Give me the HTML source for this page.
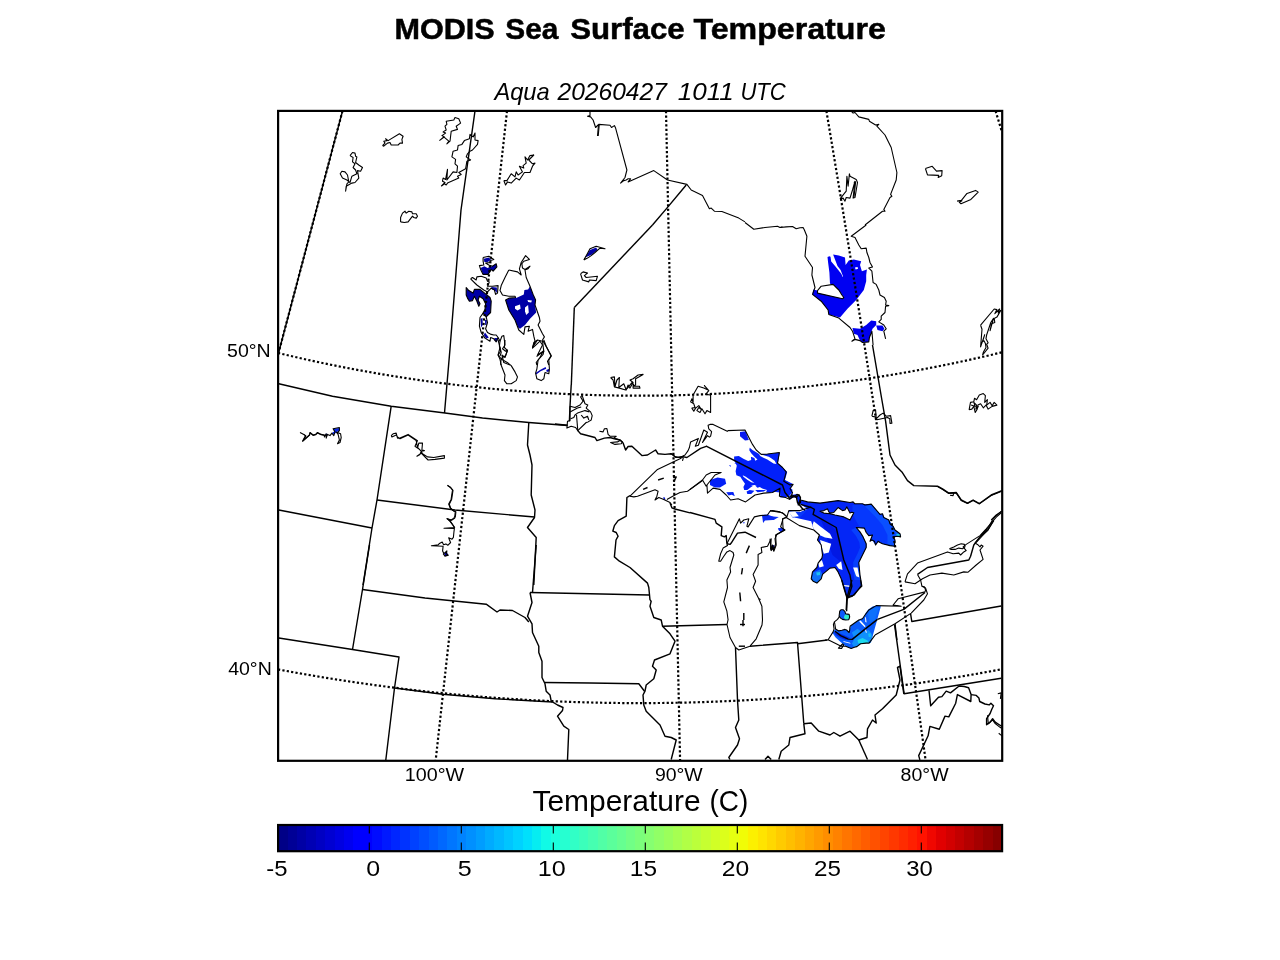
<!DOCTYPE html>
<html><head><meta charset="utf-8"><title>MODIS Sea Surface Temperature</title>
<style>
html,body{margin:0;padding:0;background:#fff;}
body{width:1280px;height:960px;overflow:hidden;font-family:"Liberation Sans",sans-serif;}
svg{display:block;will-change:transform;transform:translateZ(0)}
text{font-family:"Liberation Sans",sans-serif;fill:#000}
.b{fill:none;stroke:#000;stroke-width:1.42;stroke-linejoin:round;stroke-linecap:butt}
.c{fill:none;stroke:#000;stroke-width:1.1;stroke-linejoin:round;stroke-linecap:butt}
.d{fill:none;stroke:#000;stroke-width:2.2;stroke-dasharray:2.22 2.22}
</style></head><body>
<svg width="1280" height="960" viewBox="0 0 1280 960">
<rect width="1280" height="960" fill="#fff"/>
<defs><clipPath id="mc"><rect x="278" y="111" width="724" height="650"/></clipPath></defs>

<text x="394.49" y="38.80" font-size="29.7" font-weight="bold" font-style="normal" stroke="#000" stroke-width="0.5" textLength="100.26" lengthAdjust="spacingAndGlyphs">MODIS</text>
<text x="505.30" y="38.80" font-size="29.7" font-weight="bold" font-style="normal" stroke="#000" stroke-width="0.5" textLength="53.02" lengthAdjust="spacingAndGlyphs">Sea</text>
<text x="570.19" y="38.80" font-size="29.7" font-weight="bold" font-style="normal" stroke="#000" stroke-width="0.5" textLength="114.54" lengthAdjust="spacingAndGlyphs">Surface</text>
<text x="693.49" y="38.80" font-size="29.7" font-weight="bold" font-style="normal" stroke="#000" stroke-width="0.5" textLength="192.39" lengthAdjust="spacingAndGlyphs">Temperature</text>
<text x="494.41" y="100.00" font-size="23.8" font-weight="normal" font-style="italic" textLength="55.31" lengthAdjust="spacingAndGlyphs">Aqua</text>
<text x="557.47" y="100.00" font-size="23.8" font-weight="normal" font-style="italic" textLength="109.43" lengthAdjust="spacingAndGlyphs">20260427</text>
<text x="677.76" y="100.00" font-size="23.8" font-weight="normal" font-style="italic" textLength="56.09" lengthAdjust="spacingAndGlyphs">1011</text>
<text x="740.41" y="100.00" font-size="23.8" font-weight="normal" font-style="italic" textLength="45.43" lengthAdjust="spacingAndGlyphs">UTC</text>
<text x="227.03" y="356.90" font-size="18" font-weight="normal" font-style="normal" textLength="43.65" lengthAdjust="spacingAndGlyphs">50°N</text>
<text x="228.17" y="675.00" font-size="18" font-weight="normal" font-style="normal" textLength="43.59" lengthAdjust="spacingAndGlyphs">40°N</text>
<text x="404.77" y="780.75" font-size="18" font-weight="normal" font-style="normal" textLength="59.38" lengthAdjust="spacingAndGlyphs">100°W</text>
<text x="654.95" y="780.75" font-size="18" font-weight="normal" font-style="normal" textLength="47.80" lengthAdjust="spacingAndGlyphs">90°W</text>
<text x="900.64" y="780.75" font-size="18" font-weight="normal" font-style="normal" textLength="47.98" lengthAdjust="spacingAndGlyphs">80°W</text>
<text x="532.42" y="810.80" font-size="29.7" font-weight="normal" font-style="normal" textLength="168.14" lengthAdjust="spacingAndGlyphs">Temperature</text>
<text x="709.41" y="810.80" font-size="29.7" font-weight="normal" font-style="normal" textLength="38.78" lengthAdjust="spacingAndGlyphs">(C)</text>
<text x="266.31" y="875.60" font-size="21.2" font-weight="normal" font-style="normal" textLength="21.24" lengthAdjust="spacingAndGlyphs">-5</text>
<text x="366.24" y="875.60" font-size="21.2" font-weight="normal" font-style="normal" textLength="13.91" lengthAdjust="spacingAndGlyphs">0</text>
<text x="457.81" y="875.60" font-size="21.2" font-weight="normal" font-style="normal" textLength="13.97" lengthAdjust="spacingAndGlyphs">5</text>
<text x="537.86" y="875.60" font-size="21.2" font-weight="normal" font-style="normal" textLength="27.95" lengthAdjust="spacingAndGlyphs">10</text>
<text x="629.86" y="875.60" font-size="21.2" font-weight="normal" font-style="normal" textLength="27.19" lengthAdjust="spacingAndGlyphs">15</text>
<text x="721.77" y="875.60" font-size="21.2" font-weight="normal" font-style="normal" textLength="27.50" lengthAdjust="spacingAndGlyphs">20</text>
<text x="813.94" y="875.60" font-size="21.2" font-weight="normal" font-style="normal" textLength="26.91" lengthAdjust="spacingAndGlyphs">25</text>
<text x="906.21" y="875.60" font-size="21.2" font-weight="normal" font-style="normal" textLength="26.54" lengthAdjust="spacingAndGlyphs">30</text>

<g clip-path="url(#mc)">
<path d="M740.0 431.9 L745.6 431.2 L748.8 440.0 L745.0 440.6 L740.0 436.2 Z" fill="#0818f0"/>
<path d="M734.1 456.4 L738.8 456.0 L743.4 458.8 L748.1 461.1 L751.2 459.9 L750.9 456.8 L754.4 458.0 L755.2 460.7 L757.5 459.5 L754.4 456.8 L751.2 453.3 L749.3 450.2 L749.7 447.8 L752.8 450.2 L756.7 452.5 L759.1 454.1 L760.2 456.0 L763.4 457.8 L767.3 459.4 L770.0 461.2 L773.5 463.4 L776.4 464.1 L774.7 460.7 L771.6 458.4 L768.8 456.8 L764.5 455.6 L761.0 454.5 L761.4 454.1 L766.9 454.1 L779.8 452.5 L778.2 460.7 L777.8 463.4 L782.5 467.3 L787.2 472.0 L784.8 480.6 L792.7 484.5 L789.5 486.9 L792.7 490.0 L790.3 493.9 L788.8 496.2 L784.8 497.4 L780.2 497.4 L780.5 490.0 L778.6 490.0 L774.7 491.6 L770.0 493.1 L766.1 492.3 L766.9 490.0 L762.2 488.4 L759.8 486.9 L757.5 487.7 L754.4 485.3 L751.2 486.9 L747.3 490.0 L744.2 490.0 L743.4 486.9 L745.0 483.8 L742.7 480.6 L740.3 476.7 L736.4 475.2 L735.6 471.2 L736.8 465.8 L734.1 460.3 Z" fill="#0220fa"/>
<path d="M742.7 475.2 L745.8 476.7 L751.2 480.6 L754.4 483.0 L751.2 482.2 L747.3 479.8 L743.4 476.7 Z" fill="#ffffff"/>
<path d="M751.2 485.7 L754.4 484.9 L756.7 486.1 L754.4 487.3 Z" fill="#ffffff"/>
<path d="M746.6 491.6 L749.7 490.0 L754.4 490.8 L751.2 493.9 L747.3 493.9 Z" fill="#0220fa"/>
<path d="M755.2 490.0 L760.6 490.0 L766.1 490.0 L763.8 491.6 L757.5 492.3 Z" fill="#0220fa"/>
<path d="M788.8 496.2 L792.7 494.7 L797.3 493.9 L799.7 496.2 L800.5 500.9 L798.1 504.8 L797.0 502.5 L798.1 499.4 L795.0 497.0 L790.3 498.6 Z" fill="#0220fa"/>
<path d="M729.0 465.0 L730.9 465.4 L730.5 467.0 Z" fill="#0220fa"/>
<path d="M734.1 463.0 L736.0 463.0 L735.6 463.8 Z" fill="#0220fa"/>
<path d="M710.0 480.0 L717.5 477.5 L725.0 478.8 L726.2 483.8 L720.0 487.5 L715.0 487.5 L710.0 485.0 Z" fill="#0420f6"/>
<path d="M726.2 492.3 L733.3 492.0 L734.8 496.2 L731.7 494.7 L728.6 495.5 Z" fill="#0420f6"/>
<path d="M796.9 496.2 L800.6 500.0 L807.5 501.9 L820.0 503.1 L838.1 500.6 L850.0 502.5 L853.1 501.9 L855.0 503.8 L862.5 503.8 L865.0 505.0 L871.2 504.1 L880.0 514.4 L882.5 513.8 L883.8 517.5 L888.8 520.0 L890.0 523.8 L893.1 526.2 L895.0 530.0 L900.0 533.8 L900.6 536.9 L897.5 536.2 L893.1 536.9 L895.0 540.0 L894.4 546.2 L890.0 545.6 L882.5 543.8 L880.0 542.5 L878.1 541.2 L875.6 545.0 L874.4 541.2 L871.9 540.0 L870.0 541.2 L872.5 535.0 L868.8 535.6 L866.2 532.5 L864.4 528.1 L856.2 527.5 L860.0 531.9 L863.1 536.9 L866.2 543.8 L866.2 547.5 L862.5 555.0 L858.8 562.5 L860.0 575.0 L861.9 586.2 L856.2 591.9 L852.5 596.2 L847.5 598.1 L846.9 598.1 L844.4 590.0 L841.2 578.8 L838.1 571.9 L835.0 567.5 L830.0 568.1 L822.5 574.4 L821.2 578.8 L816.9 583.1 L813.1 581.2 L811.2 578.8 L812.5 571.9 L816.9 567.5 L818.1 563.1 L821.9 558.1 L822.5 555.0 L821.2 545.0 L817.5 540.0 L819.4 535.0 L813.8 530.0 L811.2 521.2 L800.0 518.8 L795.0 517.5 L799.4 512.5 L807.5 508.8 L800.6 504.4 L798.1 504.4 Z" fill="#0426f6"/>
<path d="M857.5 505.0 L871.2 504.4 L880.0 514.4 L883.8 517.5 L888.8 520.0 L893.1 526.2 L895.0 530.0 L900.0 533.8 L900.6 536.9 L893.1 536.9 L894.4 546.2 L882.5 543.8 L878.1 541.2 L875.6 545.0 L871.9 540.0 L872.5 535.0 L877.5 530.0 L875.0 521.2 L867.5 515.0 L860.0 512.5 Z" fill="#0844fc"/>
<path d="M856.2 527.5 L860.0 531.9 L863.1 536.9 L866.2 543.8 L866.2 547.5 L862.5 555.0 L858.8 562.5 L860.0 575.0 L861.9 586.2 L856.2 591.9 L855.0 586.2 L853.8 575.0 L853.1 562.5 L857.5 553.8 L860.0 547.5 L859.4 542.5 L856.2 536.2 L851.2 530.0 Z" fill="#0840fc"/>
<path d="M852.5 505.0 L857.5 504.4 L871.2 504.1 L880.0 514.4 L882.5 513.8 L883.8 517.5 L888.8 520.0 L890.0 523.8 L893.1 526.2 L895.0 530.0 L900.0 533.8 L900.6 536.9 L897.5 536.2 L893.1 536.9 L895.0 540.0 L894.4 546.2 L890.0 545.6 L882.5 543.8 L880.0 542.5 L878.1 541.2 L875.6 545.0 L874.4 541.2 L871.9 540.0 L870.0 541.2 L872.5 535.0 L868.8 535.6 L866.2 532.5 L864.4 528.1 L860.0 527.5 L856.2 521.2 L852.5 513.8 Z" fill="#0638fc"/>
<path d="M865.0 506.2 L871.2 504.4 L880.0 514.4 L883.8 517.5 L888.8 520.0 L893.1 526.2 L895.0 530.0 L900.0 533.8 L900.6 536.9 L893.1 536.9 L894.4 546.2 L887.5 545.0 L887.5 535.0 L882.5 525.0 L875.0 516.2 Z" fill="#0a50ff"/>
<path d="M896.2 533.8 L900.0 533.8 L900.6 536.9 L896.9 536.5 Z" fill="#20c8e0"/>
<path d="M820.0 517.5 L828.8 522.5 L837.5 532.5 L842.5 557.5 L847.5 567.5 L840.0 561.2 L832.5 555.0 L828.8 545.0 L825.0 530.0 Z" fill="#0218e4"/>
<path d="M813.1 572.5 L820.0 569.4 L822.5 574.4 L821.2 578.8 L816.9 583.1 L813.1 581.2 L811.9 577.5 Z" fill="#1070f8"/>
<path d="M816.2 572.5 L820.0 571.9 L820.0 575.0 L816.9 575.6 Z" fill="#20c0f0"/>
<path d="M813.8 521.2 L820.0 526.2 L830.0 533.8 L832.5 538.8 L825.0 537.5 L819.4 535.0 L813.8 530.0 L812.5 525.0 Z" fill="#ffffff"/>
<path d="M820.0 540.0 L831.2 543.8 L828.8 552.5 L823.8 553.8 L821.9 547.5 Z" fill="#ffffff"/>
<path d="M818.1 563.1 L821.9 560.0 L823.8 566.2 L819.4 567.5 Z" fill="#ffffff"/>
<path d="M836.2 565.0 L841.2 561.2 L842.5 570.0 L838.8 568.8 Z" fill="#ffffff"/>
<path d="M853.1 567.5 L857.5 567.5 L859.4 577.5 L856.2 576.2 Z" fill="#ffffff"/>
<path d="M843.8 585.0 L850.0 586.2 L848.8 588.8 Z" fill="#ffffff"/>
<path d="M857.5 528.1 L863.8 528.1 L865.6 535.0 L863.1 536.2 Z" fill="#ffffff"/>
<path d="M820.0 511.2 L823.8 510.6 L827.5 508.8 L828.8 511.9 L830.0 513.1 L833.8 512.5 L838.1 507.5 L842.5 510.6 L845.0 510.0 L846.9 506.9 L850.0 513.1 L851.9 512.2 L853.8 512.8 L850.0 520.0 L847.5 518.8 L843.8 516.9 L835.0 515.0 L830.0 513.8 L823.8 513.1 Z" fill="#ffffff"/>
<path d="M770.0 516.2 L778.8 516.9 L773.8 520.0 L770.0 520.0 Z" fill="#0830f8"/>
<path d="M778.1 528.8 L782.5 528.1 L784.4 530.6 L780.6 531.9 Z" fill="#0830f8"/>
<path d="M788.8 511.2 L801.2 511.9 L807.5 509.4 L800.0 517.5 L792.5 517.5 Z" fill="#0838fa"/>
<path d="M788.8 511.9 L795.0 511.2 L798.8 516.2 L792.5 516.9 Z" fill="#ffffff"/>
<path d="M770.0 480.0 L785.0 480.0 L792.5 483.8 L790.6 487.5 L792.5 492.5 L788.8 496.2 L780.6 496.9 L780.0 492.5 L770.0 491.2 Z" fill="#0220fa"/>
<path d="M761.9 515.0 L767.5 514.4 L775.0 517.5 L772.5 520.0 L765.0 520.6 L763.1 523.1 L762.5 518.8 Z" fill="#0828f4"/>
<path d="M778.1 528.1 L782.5 528.1 L784.4 530.0 L781.9 531.9 L778.8 530.6 Z" fill="#0828f4"/>
<path d="M771.2 545.6 L774.4 545.0 L773.8 550.0 L771.9 549.4 Z" fill="#000890"/>
<path d="M743.1 521.9 L745.0 522.5 L743.8 523.8 Z" fill="#0828f4"/>
<path d="M663.1 497.2 L665.0 497.5 L665.2 499.8 L663.8 499.4 Z" fill="#0818d0"/>
<path d="M876.9 605.6 L880.9 606.2 L870.9 642.5 L869.1 643.1 L866.2 643.1 L860.6 643.8 L856.9 646.6 L854.4 647.2 L851.2 648.4 L845.6 646.2 L840.6 641.9 L835.6 637.5 L832.5 633.1 L833.4 631.2 L835.6 629.1 L838.8 630.9 L841.9 630.3 L845.0 629.4 L846.6 630.0 L849.1 632.5 L849.7 630.0 L850.6 625.9 L856.2 621.9 L861.2 619.1 L864.1 616.9 L865.6 613.1 L868.1 609.7 L872.5 606.6 Z" fill="#0a5cfc"/>
<path d="M851.9 632.5 L857.5 628.8 L862.5 632.5 L868.8 630.0 L872.5 635.0 L870.9 642.5 L869.1 643.1 L866.2 643.1 L860.6 643.8 L856.9 646.6 L854.4 647.2 L851.9 643.8 L854.4 638.8 Z" fill="#1090fc"/>
<path d="M857.5 640.0 L862.5 638.1 L867.5 640.6 L868.8 643.1 L866.2 643.1 L860.6 643.8 L858.1 643.1 Z" fill="#1cd8ec"/>
<path d="M868.1 633.8 L870.6 633.1 L870.9 636.9 L868.8 636.9 Z" fill="#18c0f4"/>
<path d="M833.8 631.9 L837.5 632.5 L843.8 635.0 L850.0 638.1 L845.6 640.0 L840.6 638.1 L835.6 635.0 Z" fill="#0428e4"/>
<path d="M868.8 610.0 L875.0 607.5 L878.8 607.5 L875.0 620.0 L870.0 622.5 L868.1 615.6 Z" fill="#0c70fc"/>
<path d="M859.1 621.2 L860.6 620.6 L865.0 625.6 L865.6 627.5 L863.8 626.2 L860.6 623.1 Z" fill="#ffffff"/>
<path d="M865.0 616.9 L865.9 617.5 L866.6 622.5 L865.3 621.9 Z" fill="#ffffff"/>
<path d="M865.0 628.8 L865.9 629.1 L866.9 633.1 L865.6 632.2 Z" fill="#ffffff"/>
<path d="M843.1 640.9 L850.0 642.8 L850.6 643.8 L843.8 641.9 Z" fill="#ffffff"/>
<path d="M839.7 611.2 L841.2 609.7 L843.1 609.7 L845.0 611.6 L845.6 613.8 L849.1 614.4 L849.7 616.9 L848.8 619.7 L845.6 620.0 L842.5 619.4 L840.6 618.1 L839.1 616.2 Z" fill="#0c58fc"/>
<path d="M845.0 614.4 L849.1 614.7 L849.5 616.9 L848.8 619.5 L845.6 619.8 L843.8 617.5 Z" fill="#30ecc8"/>
<path d="M840.0 618.1 L841.6 618.4 L841.9 619.7 L840.3 619.4 Z" fill="#ffffff"/>
<path d="M841.2 580.0 L847.5 597.5 L854.4 595.0 L860.6 586.2 L860.0 580.0 Z" fill="#0830f0"/>
<path d="M843.8 585.0 L849.4 585.6 L849.8 586.9 L844.0 586.2 Z" fill="#ffffff"/>
<path d="M827.5 256.9 L829.4 256.2 L830.5 256.8 L831.2 261.4 L835.9 266.9 L841.4 273.9 L842.6 277.0 L843.0 276.2 L840.6 270.0 L837.5 266.1 L833.1 254.4 L838.8 255.6 L845.0 257.5 L845.6 265.0 L848.8 260.6 L853.8 259.4 L861.2 261.2 L860.0 265.0 L861.9 271.2 L866.9 269.4 L866.2 275.0 L866.2 281.2 L863.8 290.0 L856.2 300.0 L847.5 308.8 L840.0 317.5 L828.8 314.4 L828.1 310.0 L821.2 301.2 L812.5 294.4 L813.1 289.4 L817.5 290.6 L817.5 293.1 L842.5 298.8 L843.8 297.5 L838.8 290.0 L833.1 284.4 L830.0 283.8 L829.4 272.5 L828.1 262.5 Z" fill="#0000f2"/>
<path d="M852.5 328.1 L860.0 328.8 L866.2 325.0 L871.2 320.6 L876.2 321.2 L876.2 325.0 L872.5 328.8 L869.4 337.5 L868.8 341.9 L862.5 342.5 L860.0 340.6 L857.5 335.0 L853.8 333.8 Z" fill="#0000ee"/>
<path d="M876.2 325.6 L882.5 325.6 L884.4 328.8 L882.5 331.2 L877.5 330.0 Z" fill="#0000ee"/>
<path d="M855.0 267.5 L857.5 266.9 L858.1 268.8 L855.6 269.4 Z" fill="#ffffff"/>
<path d="M505.6 300.0 L510.0 298.1 L516.2 298.1 L523.8 294.4 L524.4 290.0 L528.1 289.4 L530.0 286.2 L533.1 294.4 L535.6 300.0 L535.0 305.0 L536.2 312.5 L530.0 318.8 L525.0 325.0 L520.0 328.8 L518.1 327.5 L515.0 320.0 L508.8 310.0 Z" fill="#0000a6"/>
<path d="M515.0 306.2 L520.0 304.4 L520.6 308.8 L517.5 310.6 L515.0 308.8 Z" fill="#ffffff"/>
<path d="M525.0 307.5 L528.1 305.0 L528.8 312.5 L526.2 315.0 L525.0 311.2 Z" fill="#ffffff"/>
<path d="M527.5 300.0 L531.9 300.6 L531.2 302.5 L528.1 301.9 Z" fill="#ffffff"/>
<path d="M480.6 268.1 L484.4 266.2 L487.5 268.1 L491.9 266.2 L496.2 263.8 L496.9 266.9 L493.1 271.2 L491.2 269.4 L488.1 274.4 L483.1 274.4 Z" fill="#0000a6"/>
<path d="M483.8 258.8 L488.8 257.5 L491.2 260.0 L487.5 261.9 L484.4 261.9 Z" fill="#0000a6"/>
<path d="M491.2 286.9 L496.9 287.5 L496.9 293.1 L494.4 290.0 L491.9 289.4 Z" fill="#0000a6"/>
<path d="M466.2 287.5 L468.8 290.6 L473.1 293.1 L474.4 289.4 L480.0 289.4 L486.2 294.4 L490.0 297.5 L491.2 301.2 L490.6 312.5 L486.2 316.9 L483.1 313.1 L485.0 309.4 L485.6 303.8 L483.1 298.8 L479.4 296.2 L478.1 300.0 L480.0 303.8 L478.8 306.2 L476.9 301.2 L474.4 296.2 L472.5 300.6 L469.4 301.2 L467.5 298.1 L466.2 295.0 Z" fill="#0000a6"/>
<path d="M485.0 332.5 L488.8 337.5 L486.2 338.8 L483.8 335.0 Z" fill="#0000a6"/>
<path d="M494.4 338.1 L498.1 338.1 L496.9 341.9 L494.4 340.6 Z" fill="#0000a6"/>
<path d="M480.6 318.8 L482.5 318.1 L482.8 325.0 L481.0 327.5 Z" fill="#0000a6"/>
<path d="M485.0 320.0 L486.9 320.0 L486.5 325.0 L485.2 325.0 Z" fill="#0000a6"/>
<path d="M585.0 257.5 L590.0 250.0 L596.2 247.5 L597.5 250.0 L591.2 255.0 Z" fill="#0000a6"/>
<path d="M535.6 373.1 L540.0 370.0 L545.6 366.9 L546.2 368.8 L540.6 371.2 L536.2 374.4 Z" fill="#0000b4"/>
<path d="M546.2 370.0 L549.4 368.8 L549.4 371.2 L546.9 371.9 Z" fill="#0000b4"/>
<path d="M333.1 428.8 L339.4 428.1 L339.4 430.6 L336.9 431.9 L333.8 434.4 L331.9 433.1 L334.4 431.2 Z" fill="#0828e8"/>
<path d="M325.6 433.8 L327.5 433.8 L327.5 435.6 L325.6 435.6 Z" fill="#0818c0"/>
<path d="M444.5 552.8 L446.9 551.9 L448.3 555.6 L444.5 556.3 Z" fill="#0000a0"/>
<path class="c" d="M987.5 715.2 L988.3 723.8 L992.6 719.9 L994.9 723.3 L1000.4 727.6 L1002.4 728.1"/>
<path class="c" d="M997.8 693.7 L1001.2 692.9 L1000.4 698.9"/>
<path class="c" d="M998.7 733.3 L1002.4 736.2"/>
<path class="c" d="M570.0 406.2 L575.0 407.5 L580.0 405.0 L583.1 401.2 L580.6 396.9 L582.2 395.6 L585.0 403.8 L587.8 405.0 L586.2 408.1 L590.6 411.9 L592.2 415.6 L591.2 420.0 L588.1 421.9 L586.2 422.5 L577.8 430.6 L575.6 427.5 L571.2 426.2 L566.9 428.1 L567.5 421.2 L570.0 420.6 L570.0 406.2"/>
<path class="c" d="M570.0 411.9 L577.5 408.1 L581.2 406.9"/>
<path class="c" d="M570.6 418.8 L573.8 417.5 L575.0 415.0 L577.5 413.1 L585.0 410.6 L589.4 411.9"/>
<path class="c" d="M581.2 415.0 L583.8 418.1 L587.5 416.2 L588.8 420.0"/>
<path class="c" d="M577.8 430.6 L576.5 415.0"/>
<path class="c" d="M599.4 431.2 L603.1 431.9 L604.4 428.8 L606.9 428.5 L608.1 434.4 L610.0 436.2 L616.2 436.2 L613.8 438.1 L620.0 440.0 L622.5 441.9 L621.2 443.8 L615.0 444.4 L610.6 442.5 L617.5 441.9 L620.0 440.6"/>
<path class="c" d="M670.0 453.8 L672.5 454.1 L675.0 456.6 L678.1 457.5 L682.5 456.2 L685.0 455.0 L688.1 450.6 L689.4 447.5 L690.6 441.9 L698.4 438.4 L695.3 446.2 L698.4 445.3 L703.8 430.0 L707.5 432.2 L702.5 442.5 L707.5 435.6 L709.4 437.2 L710.6 436.2 L711.6 431.6 L708.8 428.8 L708.1 425.3 L710.0 424.4 L713.1 424.4 L727.8 431.4"/>
<path class="c" d="M683.4 457.5 L682.5 460.9"/>
<path class="c" d="M630.0 496.2 L657.5 469.4 L680.0 458.8 L683.8 456.2"/>
<path class="c" d="M630.0 496.2 L633.8 496.9 L637.5 496.2 L655.0 489.8 L658.1 491.2 L656.9 496.2 L655.0 500.0 L658.8 497.5 L663.8 499.4 L670.0 502.5 L671.9 505.0"/>
<path class="c" d="M666.9 499.4 L675.0 495.0 L680.0 492.5 L687.5 491.2 L702.5 480.6"/>
<path class="c" d="M727.5 430.6 L745.0 430.0 L752.5 444.4 L756.2 450.0 L761.2 454.4 L767.5 454.0 L779.4 452.5 L778.1 460.0 L777.5 463.1 L782.5 467.5 L786.2 471.9 L783.8 481.2 L790.0 485.0 L793.1 484.4 L790.0 488.8 L792.5 492.5 L791.2 496.2 L796.2 497.5 L798.8 495.0 L800.6 497.5 L800.0 501.2 L798.1 505.6"/>
<path class="c" d="M690.0 489.4 L702.5 480.0 L706.2 475.0 L711.2 472.5 L721.2 472.5 L715.0 475.0 L706.9 485.0 L707.5 493.1 L713.1 488.1 L720.0 489.4 L726.2 495.0 L730.6 500.0 L738.1 498.8 L745.6 501.9 L755.0 495.0 L763.8 493.1 L772.5 492.5 L780.0 488.1 L779.4 496.2 L785.6 497.5 L790.0 499.4"/>
<path class="c" d="M702.5 480.0 L706.2 486.2 L706.9 485.0"/>
<path class="c" d="M790.0 496.9 L791.9 495.0 L795.0 496.2 L796.9 494.4 L799.4 495.0 L800.6 498.8 L798.1 504.4 L800.6 502.5 L800.6 500.0 L807.5 501.9 L820.0 503.1 L838.1 500.6 L850.0 502.5 L853.1 501.9 L855.0 503.8 L862.5 503.8 L865.0 505.0 L871.2 504.1 L880.0 514.4 L882.5 513.8 L883.8 517.5 L888.8 520.0 L890.0 523.8 L893.1 526.2 L895.0 530.0 L900.0 533.8 L900.6 536.9 L897.5 536.2 L893.1 536.9 L895.0 540.0 L894.4 546.2 L890.0 545.6 L882.5 543.8 L880.0 542.5 L878.1 541.2 L875.6 545.0 L874.4 541.2 L871.9 540.0 L870.0 541.2 L872.5 535.0 L868.8 535.6 L866.2 532.5 L864.4 528.1 L856.2 527.5 L860.0 531.9 L863.1 536.9 L866.2 543.8 L866.2 547.5 L862.5 555.0 L858.8 562.5 L860.0 575.0 L861.9 586.2 L856.2 591.9 L852.5 596.2 L847.5 598.1 L846.9 600.0"/>
<path class="c" d="M846.9 598.1 L844.4 590.0 L841.2 578.8 L838.1 571.9 L835.0 567.5 L830.0 568.1 L822.5 574.4 L821.2 578.8 L816.9 583.1 L813.1 581.2 L811.2 578.8 L812.5 571.9 L816.9 567.5 L818.1 563.1 L821.9 558.1 L822.5 555.0 L821.2 545.0 L817.5 540.0 L819.4 535.0 L813.8 530.0 L799.4 525.6 L786.2 517.5 L782.5 518.8 L783.1 528.8 L785.0 530.0 L776.9 534.4 L775.0 538.8 L775.6 543.8 L773.8 550.0 L772.5 545.0 L771.2 550.0 L770.0 538.8"/>
<path class="c" d="M770.0 510.6 L782.5 512.8 L786.9 516.9 L788.8 510.6 L800.0 510.6 L811.2 506.9"/>
<path class="c" d="M726.9 543.8 L739.4 518.8 L740.6 523.1 L743.8 520.0 L748.8 518.8 L746.9 526.2 L748.1 526.9 L754.4 516.9 L760.0 515.6 L767.5 515.0 L770.0 511.2 L772.5 510.6 L780.0 511.9 L783.8 513.8 L786.9 516.9"/>
<path class="c" d="M726.9 543.8 L727.5 545.6 L723.1 548.1 L720.6 553.8 L718.8 561.2 L720.6 561.2 L723.8 556.2 L726.9 551.9 L730.0 550.6 L733.1 552.5 L733.8 555.0 L730.0 567.5 L730.6 571.9 L726.9 580.0 L727.5 587.5 L723.8 601.9 L726.9 611.2 L728.1 620.0"/>
<path class="c" d="M786.9 516.9 L783.1 518.8 L782.5 520.6 L780.6 526.9 L784.4 530.0 L775.6 535.0 L776.2 545.0 L773.8 551.2 L772.5 548.1 L771.2 550.6 L770.6 548.8 L771.2 538.8 L767.5 546.2 L761.2 547.5 L761.9 552.5 L758.1 554.4 L758.1 565.0 L753.1 574.4 L755.6 581.2 L753.1 587.5 L758.8 598.8 L761.9 606.2 L762.5 620.0"/>
<path class="c" d="M758.8 598.8 L760.6 599.4"/>
<path class="c" d="M728.0 620.0 L727.0 624.5 L730.0 637.5 L735.5 647.5 L738.8 650.0 L750.0 646.2 L756.2 638.8 L762.0 625.0 L762.5 620.0"/>
<path class="c" d="M937.5 486.5 L943.1 489.8 L948.8 493.5 L956.2 492.9 L961.2 500.4 L967.5 503.5 L973.1 500.4 L979.4 503.9 L991.2 495.5 L1001.9 491.2"/>
<path class="c" d="M948.8 493.1 L953.8 492.5 L953.1 495.6 L950.0 495.2"/>
<path class="c" d="M871.9 416.2 L873.1 410.6 L875.6 410.0 L876.2 418.8 L880.0 415.0 L883.1 413.1 L886.2 416.2 L890.6 415.6 L891.9 423.1 L890.0 423.5 L889.8 418.8 L887.5 417.5 L876.9 419.8 L875.0 416.9 L871.9 416.2"/>
<path class="c" d="M905.0 581.9 L907.5 573.8 L917.5 563.1 L947.5 551.9 L953.1 553.8 L958.8 553.1 L960.6 555.0 L963.8 551.9 L966.2 550.6 L963.1 546.9 L966.2 544.4 L980.0 535.6 L986.2 528.8 L993.8 520.0"/>
<path class="c" d="M949.4 548.8 L953.8 546.9 L957.5 545.0 L961.2 543.8 L964.4 544.4 L965.0 546.9 L962.5 548.8 L958.8 548.1 L955.0 549.4 L951.2 549.4 L949.4 548.8"/>
<path class="c" d="M905.0 581.9 L915.0 583.8 L922.5 578.8 L930.0 575.0 L941.9 573.1 L953.8 575.0 L963.8 571.9 L968.1 572.2 L976.2 565.0 L983.1 559.4 L980.0 550.0 L983.1 546.2 L981.2 545.0 L980.0 546.9 L977.5 544.4 L975.0 543.1 L980.6 536.2 L987.5 530.6 L993.8 520.6"/>
<path class="c" d="M917.5 574.4 L920.6 580.0 L921.9 586.2 L925.6 588.1 L927.5 593.8 L923.8 600.0 L911.2 613.1 L895.0 623.8 L875.0 635.0"/>
<path class="c" d="M921.9 586.2 L924.4 586.9 L925.6 590.0 L925.0 591.9 L898.1 598.8 L893.1 605.0 L901.2 606.2 L876.2 605.6 L868.8 610.0 L865.0 615.0 L862.5 618.8 L858.8 620.0 L850.0 626.2"/>
<path class="c" d="M991.2 520.0 L996.2 515.0 L1001.9 511.2"/>
<path class="c" d="M841.9 580.0 L846.9 596.9 L854.4 595.0 L861.2 585.6 L860.6 580.0"/>
<path class="c" d="M850.0 626.2 L849.7 630.0 L849.1 632.5 L846.6 630.0 L845.0 629.4 L841.9 630.3 L838.8 630.9 L835.6 629.1 L835.0 625.0 L834.4 621.9 L837.5 619.4 L839.7 616.2"/>
<path class="c" d="M825.0 640.0 L828.1 639.8 L833.1 631.9 L834.1 628.8 L833.4 624.4 L834.4 621.9"/>
<path class="c" d="M828.1 639.8 L836.2 643.8 L840.6 645.9 L838.4 648.1 L841.6 648.4 L843.8 645.0 L842.5 643.8 L840.6 645.9 L845.6 646.2 L851.2 648.4 L854.4 647.2 L856.9 646.6 L860.6 643.8 L866.2 643.1 L869.1 643.1 L875.0 635.1"/>
<path class="c" d="M981.2 535.0 L987.5 528.8 L992.5 520.0 L996.2 515.6 L1001.2 511.5"/>
<path class="c" d="M976.2 542.5 L982.5 535.6 L988.1 529.8 L993.1 521.0 L996.9 516.5 L1001.2 512.8"/>
<path class="c" d="M780.0 227.5 L786.2 226.9 L792.5 226.5 L796.2 228.8 L800.0 227.8 L803.1 227.5 L804.4 230.0 L806.9 236.2 L805.0 256.2 L812.5 267.5 L811.9 275.0 L815.0 287.5 L812.5 294.4 L821.2 301.2 L828.1 310.0 L828.8 314.4 L838.8 318.1 L850.0 327.5 L852.5 331.2 L855.0 338.8 L851.9 341.2 L855.0 339.4 L860.0 340.6 L862.5 342.5 L868.8 341.9 L869.4 337.5 L871.9 331.2 L873.1 345.0"/>
<path class="c" d="M817.5 290.6 L821.2 286.2 L833.1 284.4 L838.8 290.0 L841.9 295.0 L843.8 297.5 L842.5 298.8 L817.5 293.1 L817.5 290.6"/>
<path class="c" d="M866.2 225.0 L851.2 236.2 L855.0 237.5 L858.8 245.0 L861.2 248.8 L866.2 248.1 L866.9 252.5 L868.8 257.5 L870.0 262.5 L872.5 266.9 L868.8 268.1 L871.9 271.2 L873.1 282.5 L876.2 284.4 L878.8 290.0 L880.0 295.0 L884.4 297.5 L886.2 301.2 L885.6 305.0 L888.8 305.6 L885.6 306.2 L885.0 312.5 L881.2 316.2 L881.2 319.4 L878.8 321.9 L883.8 325.0 L886.2 328.8 L883.8 331.2 L885.6 338.8"/>
<path class="c" d="M590.0 111.2 L590.0 115.6 L587.5 116.2 L590.6 116.9 L593.1 120.0 L595.6 127.5 L598.1 125.0 L598.8 124.4 L610.0 125.2 L611.5 127.5 L614.4 125.6 L615.6 128.1 L626.9 170.0 L625.0 177.5 L620.6 183.1 L623.8 180.6 L626.2 180.0 L628.1 178.8 L630.6 178.8 L628.1 181.9 L653.8 170.6 L667.5 180.0 L686.9 184.4 L691.2 190.0 L702.5 195.6 L709.4 208.8 L711.2 208.1 L714.4 211.2 L721.9 211.5 L738.8 218.1 L745.0 221.9"/>
<path class="c" d="M598.5 125.0 L597.5 136.0"/>
<path class="c" d="M599.2 125.0 L598.2 136.0"/>
<path class="c" d="M745.0 222.5 L753.8 229.2 L765.0 227.5 L777.5 226.2 L780.0 227.5 L782.5 226.8"/>
<path class="c" d="M851.2 111.2 L853.1 113.1 L855.0 112.5 L858.8 116.9 L868.8 119.4 L869.4 121.2 L875.6 125.0 L878.8 124.4 L876.9 126.2 L885.0 135.0 L891.2 147.5 L896.9 172.5 L896.2 180.0 L890.6 194.4 L891.9 196.2 L890.0 197.5 L883.8 209.4 L885.0 211.2 L882.5 211.2 L865.0 225.0"/>
<path class="c" d="M840.0 198.8 L846.2 191.2 L846.9 176.2 L848.1 186.2 L849.4 173.8 L850.0 176.2 L856.2 179.4 L857.5 182.5 L855.0 197.5 L853.1 198.1 L855.0 181.2 L852.5 190.0 L850.0 198.1 L846.2 197.5 L845.0 201.2 L843.1 198.1 L840.0 198.8"/>
<path class="c" d="M853.8 182.5 L855.6 181.9 L854.0 196.9"/>
<path class="c" d="M508.8 270.0 L517.5 271.9 L521.2 275.0 L519.4 268.8 L521.2 262.5 L525.6 255.6 L529.4 259.4 L523.8 261.2 L521.9 263.8 L522.5 268.1 L525.0 269.4 L530.0 266.2 L528.1 268.8 L525.0 270.0 L526.2 277.5 L530.0 286.2 L533.1 294.4 L535.6 300.0 L535.0 305.0 L539.4 317.5 L540.0 321.2 L538.1 325.0 L542.5 333.8 L544.4 336.9 L542.5 340.0 L551.2 355.6 L547.5 361.2 L548.8 365.0"/>
<path class="c" d="M508.8 270.0 L505.0 277.5 L501.2 285.6 L500.0 290.6 L502.5 295.0 L508.8 296.2 L515.0 296.2 L515.6 297.5 L509.4 298.1 L505.6 300.0 L508.8 310.0 L515.0 320.0 L518.8 330.0 L523.8 334.4 L525.0 326.9 L529.4 326.2 L528.1 331.2 L532.5 329.4 L533.8 336.2 L535.0 341.2 L532.5 347.5 L537.5 340.0 L542.5 341.2 L543.8 351.2 L540.0 353.8 L536.9 356.2 L543.1 351.2 L540.0 357.5 L536.2 362.5 L536.9 365.0"/>
<path class="c" d="M483.1 257.5 L488.8 256.2 L493.8 259.4 L490.6 260.6 L490.0 262.5 L485.6 263.1 L488.8 265.0 L492.5 266.2 L496.2 263.8 L496.9 266.9 L493.1 271.2 L491.2 269.4 L488.1 274.4 L483.1 274.4 L480.6 269.4 L479.4 265.6 L483.8 265.0 L483.1 261.2 L483.1 257.5"/>
<path class="c" d="M470.6 278.8 L472.5 277.5 L476.2 280.0 L476.9 276.9 L481.2 276.2 L486.2 278.1 L487.5 281.2 L489.4 281.9 L487.5 286.2 L492.5 286.2 L498.1 285.6 L497.5 293.1 L495.6 294.4 L494.4 290.0 L491.2 288.1 L487.5 291.9 L483.8 290.0 L476.9 285.0 L470.6 278.8"/>
<path class="c" d="M483.1 313.1 L480.0 317.5 L479.4 326.2 L481.2 332.5 L485.0 338.1 L490.0 341.2 L490.6 337.5 L493.8 338.8 L496.2 341.9 L498.1 337.5 L500.0 341.2 L501.9 336.2 L503.8 335.6 L505.0 345.0 L502.5 348.8 L505.6 351.2 L507.5 350.0 L505.0 357.5 L501.9 355.0 L503.8 362.5 L510.0 365.0"/>
<path class="c" d="M486.2 316.9 L487.5 322.5 L485.6 328.8 L487.5 332.5 L491.2 334.4 L493.8 335.0 L496.2 335.0 L498.1 337.5"/>
<path class="c" d="M500.0 341.2 L499.4 346.2 L500.6 351.2 L498.1 355.0 L500.0 359.4 L501.2 365.0"/>
<path class="c" d="M583.8 260.0 L586.9 254.4 L590.0 248.8 L596.2 246.2 L605.0 248.8 L600.0 248.1 L595.0 252.5 L591.2 255.6 L587.5 258.1 L583.8 260.0"/>
<path class="c" d="M580.6 273.8 L583.1 271.9 L587.5 273.1 L584.4 275.6 L586.2 277.5 L597.5 276.2 L596.2 280.6 L589.4 280.0 L588.8 281.9 L582.5 280.0 L580.6 273.8"/>
<path class="c" d="M498.1 340.0 L500.0 347.5 L498.1 355.0 L501.2 358.8 L500.6 363.8 L505.0 375.0 L504.4 380.6 L506.9 383.8 L511.2 383.8 L516.2 380.6 L517.5 376.9 L515.0 371.9 L511.2 365.6 L508.1 363.1 L503.8 360.6 L501.2 358.8 L502.5 357.5 L505.6 355.6 L507.5 350.6 L504.4 347.5 L505.0 340.0"/>
<path class="c" d="M500.0 347.5 L501.2 352.5 L500.0 356.2"/>
<path class="c" d="M537.5 340.0 L533.8 342.5 L532.5 348.1 L540.0 341.2 L542.5 345.0 L537.5 355.0 L543.8 351.2 L543.1 354.4 L538.1 360.0 L536.9 368.8 L535.6 373.1 L536.9 378.8 L541.2 380.6 L543.8 378.8 L545.0 372.5 L548.8 373.8 L549.4 368.8 L548.8 360.0 L551.2 356.2 L546.2 346.2 L543.8 340.0"/>
<path class="c" d="M350.0 155.6 L352.5 152.5 L355.0 153.1 L355.6 156.2 L356.9 156.9 L355.6 162.5 L358.8 165.0 L362.5 167.5 L360.6 171.2 L357.5 170.6 L358.8 178.1 L355.0 182.5 L351.9 183.1 L346.2 186.2 L345.6 191.2 L346.9 183.8 L348.8 181.9 L347.5 175.0 L345.0 171.9 L341.9 171.2 L340.2 173.8 L342.5 178.1 L346.9 180.0 L350.0 182.5 L351.9 176.2 L356.9 173.8 L355.6 170.0 L353.1 167.5 L355.0 163.8 L352.5 161.9 L353.1 157.5 L350.0 155.6"/>
<path class="c" d="M382.5 145.6 L385.0 143.1 L383.8 141.2 L386.9 140.6 L385.6 138.8 L388.1 140.6 L399.4 133.8 L403.1 136.2 L401.9 139.4 L402.5 143.1 L400.0 143.1 L398.1 145.0 L391.2 145.0 L390.0 142.5 L387.5 143.1 L383.8 146.2 L382.5 145.6"/>
<path class="c" d="M439.4 140.6 L444.4 136.9 L441.9 135.6 L445.6 133.1 L443.1 131.9 L446.2 130.0 L445.0 126.2 L446.9 124.4 L446.2 121.2 L453.8 120.0 L455.0 117.5 L458.8 118.8 L460.6 123.1 L456.2 126.2 L457.5 129.4 L451.2 131.2 L450.0 141.2 L446.9 143.8 L448.8 141.2 L443.8 136.9 L439.4 140.6"/>
<path class="c" d="M441.2 186.2 L445.0 182.5 L442.5 181.2 L443.1 178.1 L445.6 179.4 L447.5 169.4 L446.9 180.0 L453.1 171.9 L456.9 172.5 L457.5 166.2 L455.0 163.8 L455.6 159.4 L451.9 156.9 L453.1 151.2 L457.5 150.0 L458.1 145.6 L461.9 144.4 L464.4 140.6 L469.4 138.8 L470.0 134.4 L473.1 136.9 L475.0 133.1 L475.0 140.0 L478.1 140.6 L477.5 144.4 L472.5 150.0 L470.0 151.2 L467.5 153.8 L466.2 156.9 L470.6 160.0 L466.9 161.2 L465.6 168.8 L458.8 172.5 L461.2 174.4 L457.5 176.2 L458.8 178.1 L447.5 183.1 L446.2 185.0 L444.4 183.8 L441.2 186.2"/>
<path class="c" d="M400.6 221.9 L400.6 217.5 L402.5 213.1 L405.0 211.2 L406.2 213.1 L408.8 211.2 L411.9 211.9 L412.5 213.8 L416.2 213.8 L417.5 216.2 L416.2 218.1 L413.8 217.5 L412.5 216.2 L408.1 221.9 L404.4 222.5 L400.6 221.9"/>
<path class="c" d="M503.8 180.6 L506.9 180.6 L511.2 173.8 L515.0 176.9 L516.2 171.9 L518.1 175.0 L522.5 171.9 L519.4 166.2 L523.8 168.1 L523.1 165.6 L526.2 163.1 L525.0 156.9 L527.5 160.0 L530.0 155.6 L533.8 155.0 L528.8 160.0 L532.5 163.8 L535.0 163.1 L532.5 166.2 L530.0 172.5 L524.4 172.5 L519.4 180.0 L516.2 178.1 L511.2 183.1 L507.5 181.9 L505.6 185.0 L503.8 180.6"/>
<path class="c" d="M610.6 377.5 L614.4 376.9 L615.0 386.9 L616.9 380.0 L619.4 377.5 L618.8 387.5 L623.8 383.8 L626.2 390.0 L628.1 385.0 L630.0 388.1 L633.1 382.5 L630.0 380.0 L633.1 378.8 L638.1 375.0 L643.1 374.4 L638.8 376.9 L635.6 378.8 L635.6 385.0 L633.1 385.6 L633.1 388.1 L640.0 388.1 L639.4 386.2 L633.8 386.2 L632.5 381.9 L627.5 388.1 L625.6 390.0 L619.4 388.1 L614.4 386.9 L613.1 380.0 L610.6 377.5"/>
<path class="c" d="M693.1 395.0 L698.1 386.2 L703.8 388.1 L708.1 390.0 L704.4 385.6 L708.8 390.6 L705.6 394.4 L710.6 395.0 L710.6 412.5 L706.9 410.6 L705.0 413.8 L701.9 408.8 L700.0 412.5 L696.9 410.6 L698.8 407.5 L701.2 409.4 L698.8 405.6 L695.6 408.1 L693.8 411.2 L691.9 408.1 L695.0 407.5 L693.8 403.8 L690.6 401.9 L691.9 398.8 L693.1 402.5 L693.1 395.0"/>
<path class="c" d="M300.0 432.5 L303.8 434.4 L305.6 435.6 L302.5 441.2 L309.4 435.0 L310.0 432.5 L313.1 435.0 L315.6 434.4 L317.5 432.5 L321.2 434.4 L324.4 435.0 L324.4 436.9 L326.2 433.8 L326.2 438.1 L327.5 434.4 L330.0 435.6 L331.9 433.1 L333.8 435.6 L335.0 431.9 L333.1 428.8 L339.4 427.5 L339.4 430.6 L337.5 432.5 L340.6 433.8 L341.2 437.5 L340.0 442.5 L337.5 443.8 L339.4 440.0 L338.1 434.4 L336.2 431.9"/>
<path class="c" d="M303.8 434.6 L305.9 435.9 L302.9 441.0 L309.6 435.2 L310.2 432.9 L313.1 435.4 L315.6 434.8 L317.5 432.9 L321.2 434.8 L324.6 435.4"/>
<path class="c" d="M391.2 435.6 L393.1 433.8 L396.2 433.1 L397.5 438.1 L400.0 438.1 L408.1 434.4 L417.5 440.6 L415.0 446.2 L417.5 448.1 L418.8 443.1 L422.5 443.1 L421.9 450.0 L424.4 450.6 L421.2 451.2 L420.0 454.4 L416.9 456.2 L421.2 453.1 L428.1 460.0 L435.0 459.4 L444.4 458.1 L444.4 455.6 L433.8 457.5 L427.5 456.9 L422.5 453.8 L421.2 451.2 L417.5 447.5 L416.2 440.6 L408.1 435.0 L400.0 438.8 L397.5 436.9 L396.2 435.0 L391.9 436.9 L391.2 435.6"/>
<path class="c" d="M447.3 485.3 L450.1 487.2 L452.5 490.0 L451.1 499.4 L448.7 504.1 L450.1 507.8 L453.0 510.6 L455.3 511.6 L454.8 516.2 L453.9 518.1 L451.1 520.0 L446.9 518.6 L449.7 520.9 L452.5 524.7 L454.4 527.5 L444.0 528.2 L454.4 528.4 L453.9 532.2 L453.4 537.3 L452.0 539.2 L448.7 537.8 L449.7 540.6 L450.6 542.5 L447.8 545.3 L445.9 543.9 L443.6 544.8 L442.2 542.0 L439.4 543.4 L438.4 544.8 L431.4 545.8 L443.1 546.2 L442.6 550.9 L444.0 553.7 L446.9 550.9 L446.4 553.7 L448.3 555.1 L445.0 556.1 L443.1 553.7"/>
<path class="c" d="M447.9 485.6 L450.7 487.5 L453.0 490.3 L451.6 499.6 L449.3 504.3 L450.7 508.1 L453.5 510.9 L455.9 511.8 L455.4 516.5 L454.5 518.4 L451.6 520.3 L447.4 518.9 L450.2 521.2 L453.0 525.0 L454.9 527.8"/>
<path class="c" d="M925.4 168.5 L932.2 166.3 L936.5 171.1 L942.1 170.6 L941.7 175.8 L938.2 177.5 L938.7 175.4 L927.5 174.9 L925.4 168.5"/>
<path class="c" d="M957.1 201.1 L961.4 200.3 L967.0 193.4 L975.6 190.4 L978.2 192.1 L970.9 199.4 L961.0 203.7 L959.3 202.4 L961.9 200.7 L957.1 201.1"/>
<path class="c" d="M980.6 325.2 L994.2 309.0 L996.9 309.6 L994.8 313.7 L999.6 309.0 L998.2 313.0 L1000.9 310.3 L996.9 317.1 L994.2 318.4 L994.8 322.5 L991.5 323.8 L990.1 330.6 L993.5 318.4 L990.8 322.5 L986.7 334.7 L986.0 338.7 L988.1 342.8 L986.7 344.2 L988.1 348.2 L982.6 355.0 L983.3 352.3 L986.0 347.5 L985.4 343.5 L984.0 340.8 L982.6 341.5 L984.7 334.7 L980.6 346.9 L982.0 329.3 L980.6 325.2"/>
<path class="c" d="M969.1 409.8 L970.5 402.4 L973.8 401.7 L974.5 398.3 L976.6 399.7 L979.3 394.9 L983.3 393.6 L985.4 395.6 L984.7 402.4 L987.4 399.7 L986.7 405.1 L990.1 402.4 L992.1 405.8 L994.2 402.4 L996.9 405.1 L992.1 406.4 L988.1 409.1 L986.0 405.1 L983.3 407.8 L980.6 403.7 L977.9 405.1 L977.2 409.1 L975.2 412.5 L973.8 406.4 L971.8 409.1 L969.1 409.8"/>
<path class="c" d="M971.1 405.1 L975.2 406.4 L973.8 402.4 L976.6 405.1 L975.9 409.1 L978.6 406.4"/>
<path class="c" d="M820.0 511.2 L823.8 510.6 L827.5 508.8 L828.8 511.9 L830.0 513.1 L833.8 512.5 L838.1 507.5 L842.5 510.6 L845.0 510.0 L846.9 506.9 L850.0 513.1 L851.9 512.2 L853.8 512.8 L850.0 520.0 L847.5 518.8 L843.8 516.9 L835.0 515.0 L830.0 513.8 L823.8 513.1 Z"/>
<path class="c" d="M839.7 611.2 L841.2 609.7 L843.1 609.7 L845.0 611.6 L845.6 613.8 L849.1 614.4 L849.7 616.9 L848.8 619.7 L845.6 620.0 L842.5 619.4 L840.6 618.1 L839.1 616.2 Z"/>
<path class="c" d="M466.2 287.5 L468.8 290.6 L473.1 293.1 L474.4 289.4 L480.0 289.4 L486.2 294.4 L490.0 297.5 L491.2 301.2 L490.6 312.5 L486.2 316.9 L483.1 313.1 L485.0 309.4 L485.6 303.8 L483.1 298.8 L479.4 296.2 L478.1 300.0 L480.0 303.8 L478.8 306.2 L476.9 301.2 L474.4 296.2 L472.5 300.6 L469.4 301.2 L467.5 298.1 L466.2 295.0 Z"/>
<path class="b" d="M342.5 111.0 L278.0 355.0"/>
<path class="b" d="M475.0 111.0 L461.0 210.0 L459.4 230.0 L450.0 348.8 L444.5 413.0"/>
<path class="b" d="M278.8 383.8 L332.5 396.2 L391.2 406.2 L445.0 413.0 L482.5 418.0 L528.8 422.5 L567.5 425.5"/>
<path class="b" d="M391.2 406.2 L377.0 500.0 L372.0 528.0 L363.0 585.0"/>
<path class="b" d="M369.5 545.0 L362.5 589.5 L352.5 649.5"/>
<path class="b" d="M278.8 510.0 L372.0 528.0"/>
<path class="b" d="M377.0 500.0 L455.0 510.0 L534.5 517.0"/>
<path class="b" d="M528.8 422.5 L527.5 445.0 L530.0 455.0 L532.0 465.0 L531.2 495.0 L535.0 510.0 L534.5 517.5 L527.5 527.5 L536.2 537.5 L533.8 585.0"/>
<path class="b" d="M536.2 545.0 L532.5 592.5"/>
<path class="b" d="M362.5 589.5 L425.0 598.0 L486.2 604.2 L497.0 612.0 L500.0 610.0 L512.5 610.5 L525.0 617.5 L528.8 622.0"/>
<path class="b" d="M278.8 638.0 L352.5 649.5 L399.0 657.0 L394.5 688.0 L385.8 760.0"/>
<path class="b" d="M394.5 688.0 L442.5 694.2 L495.0 698.8 L552.5 702.0"/>
<path class="b" d="M530.0 592.5 L590.0 593.8"/>
<path class="b" d="M530.0 592.5 L532.0 602.5 L527.5 616.2 L532.0 623.8 L532.5 632.5 L538.8 646.2 L538.8 652.5 L542.0 661.2 L542.0 677.5 L545.0 683.8 L546.2 691.2 L550.0 695.0 L551.2 701.2 L557.5 705.0 L563.0 707.5 L562.5 710.5 L557.5 716.2 L563.8 726.2 L568.8 729.5 L567.5 760.0"/>
<path class="b" d="M544.5 682.5 L590.0 683.0"/>
<path class="b" d="M650.0 600.0 L651.2 601.2 L650.0 606.2 L653.8 617.5 L661.2 620.0 L662.5 626.2 L670.0 633.8 L675.0 641.2 L670.0 653.8 L654.5 660.0 L652.5 666.2 L656.2 670.0 L653.8 678.8 L646.2 685.0 L645.0 691.2 L643.0 695.0 L643.8 705.0 L646.2 711.2 L660.0 725.0 L665.0 736.2 L671.2 737.5 L676.2 740.0 L671.2 759.5"/>
<path class="b" d="M590.0 683.0 L638.8 683.8 L644.5 691.2"/>
<path class="b" d="M662.5 626.2 L727.0 624.5"/>
<path class="b" d="M735.5 647.5 L737.5 700.0 L738.8 720.0 L735.5 727.5 L739.5 738.8 L737.5 745.0 L728.8 757.5 L730.0 759.5"/>
<path class="b" d="M750.0 646.2 L797.5 642.5 L803.8 723.8"/>
<path class="b" d="M797.5 643.8 L827.5 640.0"/>
<path class="b" d="M803.8 723.8 L805.0 733.8 L790.0 737.5 L788.8 745.0 L781.2 751.2 L778.8 759.5"/>
<path class="b" d="M765.0 759.5 L768.0 756.2 L771.2 759.5"/>
<path class="b" d="M803.8 723.8 L811.2 723.0 L818.8 731.2 L830.0 735.0 L833.8 732.5 L840.0 736.2 L850.0 731.2 L858.8 740.0 L867.0 737.5 L867.5 728.8 L872.5 720.0 L876.2 723.0 L875.0 715.0 L882.5 708.8 L885.0 706.2 L896.2 695.0 L900.0 680.0 L897.5 667.5 L900.0 666.2 L903.8 693.8"/>
<path class="b" d="M858.8 740.0 L867.5 759.5"/>
<path class="b" d="M894.6 624.9 L904.1 693.7 L1001.2 678.2"/>
<path class="b" d="M910.6 613.8 L911.8 621.5 L1001.2 606.0"/>
<path class="b" d="M929.0 690.3 L930.7 705.8 L938.5 697.2 L941.9 696.6 L946.2 691.1 L950.5 692.9 L959.1 686.0 L964.3 686.5 L968.6 687.7 L971.1 694.6 L970.8 701.5 L957.4 694.6 L955.7 703.2 L948.8 716.9 L945.0 716.1 L939.3 729.3 L929.9 726.4 L928.1 735.8 L918.7 755.6 L919.9 759.9"/>
<path class="b" d="M971.1 694.6 L976.3 695.4 L978.9 698.0 L979.7 701.5 L984.9 704.0 L989.2 704.9 L990.9 703.2 L993.5 705.8 L991.8 709.2 L990.1 713.5 L986.6 718.7 L986.6 724.7 L990.1 722.1 L992.6 718.7 L995.2 722.1 L1000.4 725.5 L1002.4 726.4"/>
<path class="b" d="M574.3 307.5 L571.3 385.0"/>
<path class="b" d="M571.2 385.0 L570.0 406.2 L569.4 421.2"/>
<path class="b" d="M555.0 424.0 L567.5 425.2"/>
<path class="b" d="M577.8 430.6 L580.6 433.8 L595.0 437.5 L596.9 440.6 L604.4 438.1 L610.0 437.5 L614.4 438.8 L620.0 440.0 L623.1 443.1 L625.6 450.0 L628.1 446.5 L631.9 446.2 L641.9 455.6 L647.5 455.0 L655.6 450.0 L658.1 453.8 L665.0 454.4 L671.2 453.8 L675.6 457.2 L681.2 457.2 L683.8 456.2"/>
<path class="b" d="M682.5 456.6 L686.9 457.5 L700.6 448.4 L706.9 446.2"/>
<path class="b" d="M658.1 480.0 L663.8 478.1"/>
<path class="b" d="M643.1 489.4 L647.5 487.5"/>
<path class="b" d="M673.1 477.5 L676.2 476.9 L673.8 481.9"/>
<path class="b" d="M706.2 446.2 L782.5 485.0 L785.0 492.5 L790.0 498.8 L793.8 496.2 L796.2 496.2 L797.5 502.5 L802.5 508.8 L805.0 510.0"/>
<path class="b" d="M800.6 504.4 L811.2 507.5 L814.4 509.4 L813.1 514.4 L836.2 527.5 L843.8 560.0 L850.0 575.0 L851.9 586.2 L848.1 598.1"/>
<path class="b" d="M690.0 512.5 L715.0 519.4 L716.2 523.1 L721.9 526.9 L721.2 535.6 L724.4 536.9 L726.2 535.6 L726.9 543.8"/>
<path class="b" d="M726.9 543.8 L730.0 544.4 L731.2 543.1 L737.5 533.1 L745.0 532.2 L756.0 537.5"/>
<path class="b" d="M749.4 545.6 L746.2 553.1"/>
<path class="b" d="M742.5 568.1 L741.5 574.4"/>
<path class="b" d="M739.8 592.5 L740.6 601.2"/>
<path class="b" d="M743.8 613.1 L743.8 620.0"/>
<path class="b" d="M743.0 620.0 L743.0 626.2"/>
<path class="b" d="M740.0 624.5 L745.0 624.5"/>
<path class="b" d="M738.8 646.2 L745.0 646.2"/>
<path class="b" d="M630.0 495.6 L626.9 497.5 L626.2 516.2 L618.1 520.6 L614.4 525.6 L612.8 531.2 L616.2 532.5 L618.1 536.2 L616.0 540.0 L614.4 556.9 L619.4 561.2 L630.0 567.5 L647.5 583.1 L648.8 587.5 L650.0 600.0"/>
<path class="b" d="M590.0 593.8 L649.4 595.0"/>
<path class="b" d="M670.0 503.1 L671.9 507.8 L675.0 509.0 L690.0 512.9"/>
<path class="b" d="M872.5 345.0 L881.9 400.0 L885.6 421.2 L890.0 455.0 L895.0 465.0 L901.9 471.9 L907.5 480.6 L913.8 485.6 L937.5 486.2 L942.5 488.8 L948.8 493.1 L956.2 492.5 L961.2 500.0 L967.5 503.1 L973.1 500.0 L979.4 503.5 L991.2 495.0 L1001.9 490.6"/>
<path class="b" d="M917.5 574.4 L927.5 567.5 L968.8 560.0 L970.6 556.2 L973.8 545.0 L980.0 536.9 L986.9 529.4"/>
<path class="b" d="M925.0 592.5 L903.8 609.4 L877.5 619.4"/>
<path class="b" d="M895.0 623.8 L896.9 640.0"/>
<path class="b" d="M851.9 580.0 L847.5 596.2 L846.9 597.5 L846.2 610.0"/>
<path class="b" d="M835.0 631.2 L840.6 635.6 L848.1 639.1 L852.2 639.4 L865.0 629.1 L877.5 619.4"/>
<path class="b" d="M846.6 611.2 L847.2 597.5"/>
<path class="b" d="M686.2 185.0 L666.9 208.1 L652.5 225.0"/>
<path class="b" d="M652.5 225.0 L574.3 307.5"/>

<g class="d">
<path d="M342.5 111 L278 355"/>
<path d="M507 111 L435.6 761"/>
<path d="M666 111 L680.1 761"/>
<path d="M826.4 111 Q881 436 925.7 761"/>
<path d="M995.6 111 L1002 132"/>
<path d="M278 353 A1543.5 1543.5 0 0 0 1002 352.3"/>
<path d="M278 669.4 A1955 1955 0 0 0 1002 669.2"/>
</g>

</g>
<rect x="278.1" y="110.9" width="724.1" height="649.9" fill="none" stroke="#000" stroke-width="2.2"/>
<g shape-rendering="crispEdges"><rect x="278.10" y="825.0" width="10.00" height="26.2" fill="#000087"/><rect x="287.50" y="825.0" width="10.00" height="26.2" fill="#000096"/><rect x="296.91" y="825.0" width="10.00" height="26.2" fill="#0000a5"/><rect x="306.31" y="825.0" width="10.00" height="26.2" fill="#0000b4"/><rect x="315.71" y="825.0" width="10.00" height="26.2" fill="#0000c3"/><rect x="325.11" y="825.0" width="10.00" height="26.2" fill="#0000d2"/><rect x="334.52" y="825.0" width="10.00" height="26.2" fill="#0000e1"/><rect x="343.92" y="825.0" width="10.00" height="26.2" fill="#0000f0"/><rect x="353.32" y="825.0" width="10.00" height="26.2" fill="#0000ff"/><rect x="362.72" y="825.0" width="10.00" height="26.2" fill="#0000ff"/><rect x="372.13" y="825.0" width="10.00" height="26.2" fill="#000cff"/><rect x="381.53" y="825.0" width="10.00" height="26.2" fill="#0019ff"/><rect x="390.93" y="825.0" width="10.00" height="26.2" fill="#0026ff"/><rect x="400.33" y="825.0" width="10.00" height="26.2" fill="#0033ff"/><rect x="409.74" y="825.0" width="10.00" height="26.2" fill="#0041ff"/><rect x="419.14" y="825.0" width="10.00" height="26.2" fill="#004eff"/><rect x="428.54" y="825.0" width="10.00" height="26.2" fill="#005bff"/><rect x="437.94" y="825.0" width="10.00" height="26.2" fill="#0068ff"/><rect x="447.35" y="825.0" width="10.00" height="26.2" fill="#0076ff"/><rect x="456.75" y="825.0" width="10.00" height="26.2" fill="#0083ff"/><rect x="466.15" y="825.0" width="10.00" height="26.2" fill="#0090ff"/><rect x="475.55" y="825.0" width="10.00" height="26.2" fill="#009dff"/><rect x="484.96" y="825.0" width="10.00" height="26.2" fill="#00abff"/><rect x="494.36" y="825.0" width="10.00" height="26.2" fill="#00b8ff"/><rect x="503.76" y="825.0" width="10.00" height="26.2" fill="#00c5ff"/><rect x="513.16" y="825.0" width="10.00" height="26.2" fill="#00d2ff"/><rect x="522.57" y="825.0" width="10.00" height="26.2" fill="#00e0fc"/><rect x="531.97" y="825.0" width="10.00" height="26.2" fill="#06edf1"/><rect x="541.37" y="825.0" width="10.00" height="26.2" fill="#11fae6"/><rect x="550.78" y="825.0" width="10.00" height="26.2" fill="#1bffdc"/><rect x="560.18" y="825.0" width="10.00" height="26.2" fill="#26ffd1"/><rect x="569.58" y="825.0" width="10.00" height="26.2" fill="#31ffc6"/><rect x="578.98" y="825.0" width="10.00" height="26.2" fill="#3bffbb"/><rect x="588.39" y="825.0" width="10.00" height="26.2" fill="#46ffb1"/><rect x="597.79" y="825.0" width="10.00" height="26.2" fill="#51ffa6"/><rect x="607.19" y="825.0" width="10.00" height="26.2" fill="#5bff9b"/><rect x="616.59" y="825.0" width="10.00" height="26.2" fill="#66ff91"/><rect x="626.00" y="825.0" width="10.00" height="26.2" fill="#71ff86"/><rect x="635.40" y="825.0" width="10.00" height="26.2" fill="#7bff7b"/><rect x="644.80" y="825.0" width="10.00" height="26.2" fill="#86ff71"/><rect x="654.20" y="825.0" width="10.00" height="26.2" fill="#91ff66"/><rect x="663.61" y="825.0" width="10.00" height="26.2" fill="#9bff5b"/><rect x="673.01" y="825.0" width="10.00" height="26.2" fill="#a6ff51"/><rect x="682.41" y="825.0" width="10.00" height="26.2" fill="#b1ff46"/><rect x="691.81" y="825.0" width="10.00" height="26.2" fill="#bbff3b"/><rect x="701.22" y="825.0" width="10.00" height="26.2" fill="#c6ff31"/><rect x="710.62" y="825.0" width="10.00" height="26.2" fill="#d1ff26"/><rect x="720.02" y="825.0" width="10.00" height="26.2" fill="#dcff1b"/><rect x="729.42" y="825.0" width="10.00" height="26.2" fill="#e6ff11"/><rect x="738.83" y="825.0" width="10.00" height="26.2" fill="#f1fc06"/><rect x="748.23" y="825.0" width="10.00" height="26.2" fill="#fcf000"/><rect x="757.63" y="825.0" width="10.00" height="26.2" fill="#ffe400"/><rect x="767.04" y="825.0" width="10.00" height="26.2" fill="#ffd800"/><rect x="776.44" y="825.0" width="10.00" height="26.2" fill="#ffcb00"/><rect x="785.84" y="825.0" width="10.00" height="26.2" fill="#ffbf00"/><rect x="795.24" y="825.0" width="10.00" height="26.2" fill="#ffb300"/><rect x="804.65" y="825.0" width="10.00" height="26.2" fill="#ffa600"/><rect x="814.05" y="825.0" width="10.00" height="26.2" fill="#ff9a00"/><rect x="823.45" y="825.0" width="10.00" height="26.2" fill="#ff8e00"/><rect x="832.85" y="825.0" width="10.00" height="26.2" fill="#ff8200"/><rect x="842.26" y="825.0" width="10.00" height="26.2" fill="#ff7500"/><rect x="851.66" y="825.0" width="10.00" height="26.2" fill="#ff6900"/><rect x="861.06" y="825.0" width="10.00" height="26.2" fill="#ff5d00"/><rect x="870.46" y="825.0" width="10.00" height="26.2" fill="#ff5100"/><rect x="879.87" y="825.0" width="10.00" height="26.2" fill="#ff4400"/><rect x="889.27" y="825.0" width="10.00" height="26.2" fill="#ff3800"/><rect x="898.67" y="825.0" width="10.00" height="26.2" fill="#ff2c00"/><rect x="908.07" y="825.0" width="10.00" height="26.2" fill="#ff2000"/><rect x="917.48" y="825.0" width="10.00" height="26.2" fill="#ff1300"/><rect x="926.88" y="825.0" width="10.00" height="26.2" fill="#f00700"/><rect x="936.28" y="825.0" width="10.00" height="26.2" fill="#e10000"/><rect x="945.68" y="825.0" width="10.00" height="26.2" fill="#d20000"/><rect x="955.09" y="825.0" width="10.00" height="26.2" fill="#c30000"/><rect x="964.49" y="825.0" width="10.00" height="26.2" fill="#b40000"/><rect x="973.89" y="825.0" width="10.00" height="26.2" fill="#a50000"/><rect x="983.29" y="825.0" width="10.00" height="26.2" fill="#960000"/><rect x="992.70" y="825.0" width="10.00" height="26.2" fill="#870000"/></g>
<rect x="278.1" y="825.0" width="724.0" height="26.2" fill="none" stroke="#000" stroke-width="2.2"/>
<path d="M369.3 825.0 v8.6 M369.3 851.2 v-8.6" stroke="#000" stroke-width="1.1" fill="none"/>
<path d="M461.3 825.0 v8.6 M461.3 851.2 v-8.6" stroke="#000" stroke-width="1.1" fill="none"/>
<path d="M553.3 825.0 v8.6 M553.3 851.2 v-8.6" stroke="#000" stroke-width="1.1" fill="none"/>
<path d="M645.3 825.0 v8.6 M645.3 851.2 v-8.6" stroke="#000" stroke-width="1.1" fill="none"/>
<path d="M737.3 825.0 v8.6 M737.3 851.2 v-8.6" stroke="#000" stroke-width="1.1" fill="none"/>
<path d="M829.3 825.0 v8.6 M829.3 851.2 v-8.6" stroke="#000" stroke-width="1.1" fill="none"/>
<path d="M921.3 825.0 v8.6 M921.3 851.2 v-8.6" stroke="#000" stroke-width="1.1" fill="none"/>
</svg></body></html>
